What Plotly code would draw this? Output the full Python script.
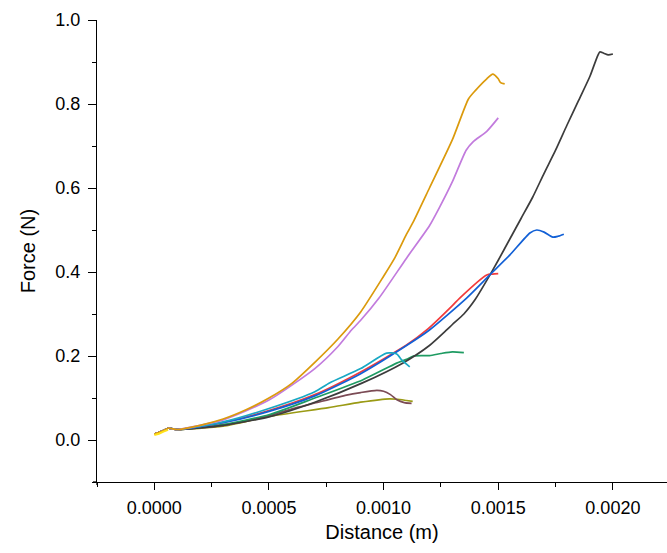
import plotly.graph_objects as go

# Common start segment (wiggle near origin)
start_x = [0.0, 0.00003, 0.00006, 0.0001]
start_y = [0.014, 0.020, 0.028, 0.025]

orange_x = [0.0002, 0.0003, 0.0004, 0.0005, 0.0006, 0.0007, 0.0008, 0.0009, 0.001, 0.00105, 0.0011,
            0.00113, 0.0012, 0.0013, 0.00137, 0.0014, 0.00145, 0.001476, 0.0015, 0.00151, 0.001528]
orange_y = [0.035, 0.050, 0.072, 0.100, 0.135, 0.185, 0.240, 0.305, 0.390, 0.435, 0.490,
            0.520, 0.600, 0.715, 0.812, 0.832, 0.860, 0.871, 0.860, 0.851, 0.848]

purple_x = [0.0003, 0.0005, 0.0007, 0.0008, 0.00086, 0.0009, 0.00098, 0.0011, 0.0012, 0.001245,
            0.0013, 0.00136, 0.00139, 0.00145, 0.0015]
purple_y = [0.048, 0.095, 0.170, 0.222, 0.262, 0.285, 0.338, 0.433, 0.510, 0.555,
            0.615, 0.690, 0.710, 0.735, 0.767]

red_x = [0.0003, 0.0005, 0.0007, 0.0009, 0.0011, 0.001188, 0.0013, 0.001332, 0.00145, 0.001475, 0.0015]
red_y = [0.042, 0.070, 0.108, 0.162, 0.226, 0.262, 0.320, 0.338, 0.393, 0.395, 0.396]

blue_x = [0.0003, 0.0005, 0.0007, 0.0009, 0.0011, 0.0012, 0.001362, 0.001463, 0.00155, 0.001638,
          0.001668, 0.0017, 0.001738, 0.00176, 0.001786]
blue_y = [0.041, 0.068, 0.105, 0.158, 0.225, 0.262, 0.338, 0.393, 0.440, 0.493,
          0.500, 0.495, 0.483, 0.485, 0.490]

cyan_x = [0.0003, 0.0005, 0.0007, 0.000764, 0.0009, 0.001013, 0.001057, 0.00108, 0.001114]
cyan_y = [0.043, 0.075, 0.115, 0.136, 0.170, 0.207, 0.205, 0.190, 0.174]

green_x = [0.0003, 0.0005, 0.0007, 0.000908, 0.001057, 0.0011, 0.00113, 0.0012, 0.00125, 0.0013, 0.00135]
green_y = [0.037, 0.060, 0.100, 0.143, 0.183, 0.192, 0.200, 0.201, 0.206, 0.210, 0.208]

black_x = [0.0003, 0.0005, 0.0007, 0.000908, 0.001083, 0.0012, 0.001275, 0.0013, 0.00135, 0.0014,
           0.00145, 0.0015, 0.00155, 0.0016, 0.00165, 0.0017, 0.00175, 0.0018, 0.00185, 0.0019,
           0.00193, 0.001943, 0.00196, 0.00198, 0.002]
black_y = [0.035, 0.055, 0.090, 0.136, 0.183, 0.225, 0.262, 0.275, 0.300, 0.335,
           0.380, 0.428, 0.478, 0.528, 0.578, 0.635, 0.690, 0.750, 0.808, 0.866,
           0.910, 0.924, 0.921, 0.917, 0.919]

brown_x = [0.0003, 0.0005, 0.00062, 0.0007, 0.000838, 0.0009, 0.00097, 0.001, 0.00103, 0.00106, 0.00109, 0.001122]
brown_y = [0.035, 0.058, 0.077, 0.088, 0.107, 0.113, 0.118, 0.116, 0.108, 0.095, 0.089, 0.087]

olive_x = [0.0003, 0.0005, 0.00076, 0.0009, 0.001026, 0.00106, 0.0011, 0.001127]
olive_y = [0.033, 0.056, 0.077, 0.090, 0.098, 0.097, 0.094, 0.092]

yellow_x = [0.0, 0.00002, 0.00004, 0.00006]
yellow_y = [0.012, 0.015, 0.020, 0.024]

series = [
    ("olive", olive_x, olive_y, "#9A9A14"),
    ("brown", brown_x, brown_y, "#7B4B55"),
    ("green", green_x, green_y, "#1E9B62"),
    ("black", black_x, black_y, "#3C3C3C"),
    ("red", red_x, red_y, "#F23B3B"),
    ("blue", blue_x, blue_y, "#1260D6"),
    ("cyan", cyan_x, cyan_y, "#19A8C4"),
    ("purple", purple_x, purple_y, "#C27BDD"),
    ("orange", orange_x, orange_y, "#DB9A0C"),
]

fig = go.Figure()
for name, xs, ys, col in series:
    fig.add_trace(go.Scatter(x=start_x + xs, y=start_y + ys, mode="lines", name=name,
                             line=dict(color=col, width=1.7, shape="spline", smoothing=0.6)))
fig.add_trace(go.Scatter(x=yellow_x, y=yellow_y, mode="lines", name="yellow",
                         line=dict(color="#FFE21A", width=2)))

# small overshoot of the axis lines at the corner (Origin style "+")
fig.add_shape(type="line", xref="paper", yref="paper", xsizemode="pixel", xanchor=0,
              x0=-4, x1=0, y0=0, y1=0, line=dict(color="black", width=1.3))
fig.add_shape(type="line", xref="paper", yref="paper", ysizemode="pixel", yanchor=0,
              x0=0, x1=0, y0=-3, y1=0, line=dict(color="black", width=1.3))

font = "Arial, Liberation Sans, sans-serif"
fig.update_layout(
    width=667, height=553,
    margin=dict(l=97, r=0, t=20, b=71),
    paper_bgcolor="white", plot_bgcolor="white",
    showlegend=False,
    font=dict(family=font, color="black"),
    xaxis=dict(range=[-0.00025, 0.002236], dtick=0.0005, tick0=0, tickformat=".4f",
               showgrid=False, zeroline=False, showline=True, linecolor="black", linewidth=1.3,
               ticks="outside", ticklen=7, tickwidth=1.3, tickcolor="black",
               tickfont=dict(size=18, family=font), ticklabelstandoff=2,
               minor=dict(dtick=0.00025, tick0=0, ticks="outside", ticklen=4, tickcolor="black", tickwidth=1.3),
               title=dict(text="Distance (m)", font=dict(size=20, family=font), standoff=8)),
    yaxis=dict(range=[-0.1, 1.0], dtick=0.2, tick0=0, tickformat=".1f",
               showgrid=False, zeroline=False, showline=True, linecolor="black", linewidth=1.3,
               ticks="outside", ticklen=8, tickwidth=1.3, tickcolor="black",
               tickfont=dict(size=18, family=font), ticklabelstandoff=4,
               minor=dict(dtick=0.1, tick0=0, ticks="outside", ticklen=4, tickcolor="black", tickwidth=1.3),
               title=dict(text="Force (N)", font=dict(size=20, family=font), standoff=14)),
)
fig.write_html("out.html")
